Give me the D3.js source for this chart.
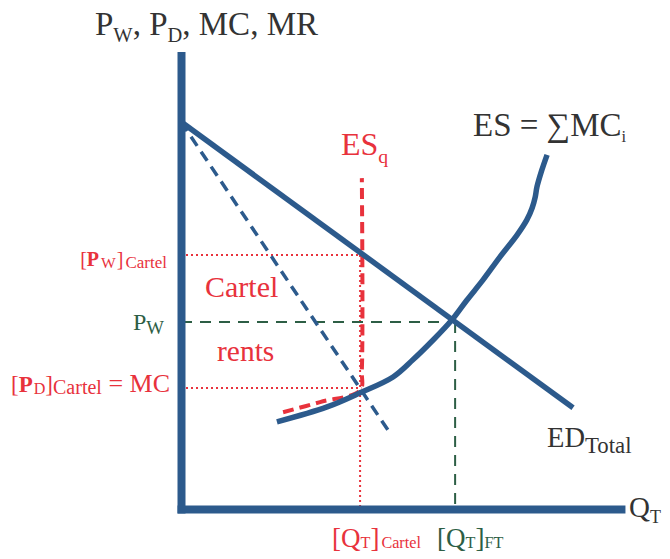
<!DOCTYPE html>
<html>
<head>
<meta charset="utf-8">
<script src="https://cdn.jsdelivr.net/npm/d3@7"></script>
<style>
  html, body { margin: 0; padding: 0; background: #fff; }
  svg { display: block; }
  text { font-family: "Liberation Serif", "Times New Roman", serif; }
</style>
</head>
<body>
<svg id="chart" width="670" height="559"></svg>
<script>
// ---- Data (Q, P in chart units) ----
const edTotal = [[0, 88], [89.1, 23.0]];
const mrLine = [[0, 88], [47, 18.0]];
const esCurve = [[21.8, 19.8], [33.2, 23.2], [40.7, 26.4], [48.2, 30.0], [52.7, 33.9], [57.3, 38.4],
                 [61.6, 43.0], [65.0, 47.5], [68.6, 52.0], [72.5, 57.3], [76.4, 62.3], [78.6, 65.7],
                 [79.8, 68.4], [80.5, 70.9], [80.9, 73.2], [82.0, 77.0], [83.2, 80.5]];
const esqCurve = [[23.2, 22.0], [31.6, 24.3], [40.7, 27.0], [41.1, 31.6], [41.1, 75.2]];
const pwCartel = 57.7;
const pwFree = 42.5;
const pdCartel = 27.5;
const qCartel = 40.7;
const qFT = 62.3;
const qMax = 100.9;
const pMax = 104;

// ---- Colours ----
const BLUE = "#2c5a8c", RED = "#e8323c", GREEN = "#2d5e45", DARK = "#333333";

const svg = d3.select("#chart");
const x = d3.scaleLinear().domain([0, 100]).range([181, 621]);
const y = d3.scaleLinear().domain([0, 100]).range([509, 69]);

const line = d3.line().x(d => x(d[0])).y(d => y(d[1]));
const smooth = d3.line().x(d => x(d[0])).y(d => y(d[1])).curve(d3.curveCatmullRom.alpha(0.5));

// guide lines
function seg(x1, y1, x2, y2, color, w, dash) {
  svg.append("line").attr("x1", x(x1)).attr("y1", y(y1)).attr("x2", x(x2)).attr("y2", y(y2))
    .attr("stroke", color).attr("stroke-width", w).attr("stroke-dasharray", dash || null);
}
seg(0, pwCartel, qCartel + 0.3, pwCartel, RED, 2, "2,3");
seg(0, pdCartel, qCartel + 0.3, pdCartel, RED, 2, "2,3");
seg(qCartel, pwCartel, qCartel, 0, RED, 2, "2,3");
seg(0, pwFree, qFT, pwFree, GREEN, 2, "11,8");
seg(qFT, pwFree, qFT, 0, GREEN, 2, "11,8");

// MR dashed
svg.append("path").attr("d", line(mrLine)).attr("fill", "none")
  .attr("stroke", BLUE).attr("stroke-width", 3.5).attr("stroke-dasharray", "11,7");
// ES_q red dashed
svg.append("path").attr("d", smooth(esqCurve)).attr("fill", "none")
  .attr("stroke", RED).attr("stroke-width", 4).attr("stroke-dasharray", "11,6");
// ED
svg.append("path").attr("d", line(edTotal)).attr("fill", "none")
  .attr("stroke", BLUE).attr("stroke-width", 5.5);
// ES
svg.append("path").attr("d", smooth(esCurve)).attr("fill", "none")
  .attr("stroke", BLUE).attr("stroke-width", 5.5);

// axes
const xAxis = d3.axisBottom(x.copy().domain([-0.9, qMax]).range([x(-0.9), x(qMax)])).tickValues([]).tickSizeOuter(0);
const yAxis = d3.axisLeft(y.copy().domain([-0.9, pMax]).range([y(-0.9), y(pMax)])).tickValues([]).tickSizeOuter(0);
const gx = svg.append("g").attr("transform", `translate(0,${y(0)})`).call(xAxis);
const gy = svg.append("g").attr("transform", `translate(${x(0)},0)`).call(yAxis);
[gx, gy].forEach(g => g.select(".domain").attr("stroke", BLUE).attr("stroke-width", 8));

// ---- Labels ----
// parts: {t, k: size factor, dy: baseline shift in px (positive = down), b: bold, dx}
function label(px, py, parts, opts) {
  const t = svg.append("text").attr("x", px).attr("y", py)
    .attr("fill", opts.color).attr("font-size", opts.size)
    .attr("text-anchor", opts.anchor || "start");
  let shift = 0;
  parts.forEach(p => {
    const ts = t.append("tspan").text(p.t);
    const target = p.dy || 0;
    if (target !== shift) { ts.attr("dy", target - shift); shift = target; }
    if (p.k) ts.attr("font-size", opts.size * p.k);
    if (p.b) ts.attr("font-weight", "bold");
    if (p.dx) ts.attr("dx", p.dx);
  });
  return t;
}
label(95, 35, [{t: "P"}, {t: "W", k: 0.62, dy: 7}, {t: ", P"}, {t: "D", k: 0.62, dy: 7}, {t: ", MC, MR"}], {color: DARK, size: 33});
label(473, 136, [{t: "ES = ∑MC"}, {t: "i", k: 0.5, dy: 6}], {color: DARK, size: 33});
label(341, 155, [{t: "ES"}, {t: "q", k: 0.62, dy: 8}], {color: RED, size: 32});
label(547, 447, [{t: "ED"}, {t: "Total", k: 0.8, dy: 6}], {color: DARK, size: 28.5});
label(629, 517, [{t: "Q"}, {t: "T", k: 0.62, dy: 6}], {color: DARK, size: 29});
label(167, 266, [{t: "["}, {t: "P", b: true}, {t: "W", k: 0.78, dy: 2, dx: 2}, {t: "]", dy: 0, dx: 1}, {t: "Cartel", k: 0.85, dy: 2, dx: 2}], {color: RED, size: 20, anchor: "end"});
label(164, 330, [{t: "P"}, {t: "W", k: 0.78, dy: 4}], {color: GREEN, size: 24, anchor: "end"});
label(170, 392, [{t: "["}, {t: "P", b: true}, {t: "D", k: 0.7, dy: 2, dx: 1}, {t: "]", dy: 0}, {t: "Cartel", k: 0.87, dy: 2}, {t: " = MC", k: 1.13, dy: 0}], {color: RED, size: 23, anchor: "end"});
label(205, 297, [{t: "Cartel"}], {color: RED, size: 30});
label(217, 361, [{t: "rents"}], {color: RED, size: 29.5});
label(332, 547, [{t: "[Q"}, {t: "T", k: 0.6, dy: 1}, {t: "]", dy: 0}, {t: "Cartel", k: 0.6, dy: 1, dx: 2}], {color: RED, size: 27});
label(437, 547, [{t: "[Q"}, {t: "T", k: 0.6, dy: 1}, {t: "]", dy: 0}, {t: "FT", k: 0.6, dy: 1}], {color: GREEN, size: 27});
</script>
</body>
</html>
